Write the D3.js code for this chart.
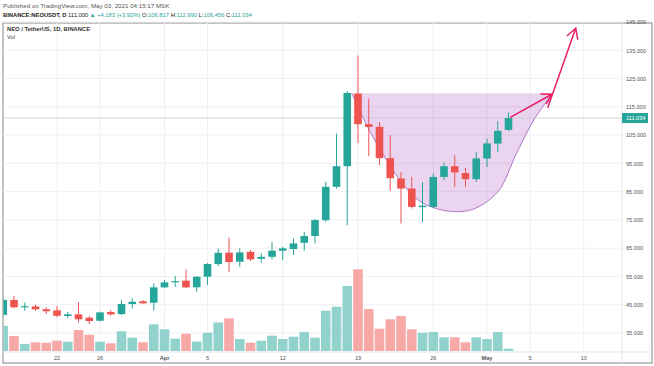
<!DOCTYPE html>
<html>
<head>
<meta charset="utf-8">
<script src="https://cdn.jsdelivr.net/npm/d3@7"></script>
<style>
  body { margin: 0; background: #fff; }
  svg { display: block; font-family: "Liberation Sans", Arial, sans-serif; }
</style>
</head>
<body>
<div class="chart"></div>
<script>
// daily candles, NEO/USDT, 17 Mar - 3 May 2021
var dates = d3.utcDay.range(new Date(Date.UTC(2021, 2, 17)), new Date(Date.UTC(2021, 4, 4)));

var opens = [41.4, 46.7, 44.1, 44.4, 43.4, 43.0, 41.0, 41.6, 40.4, 39.35, 42.4, 41.7, 45.25, 46.2, 45.7,
  51.15, 52.9, 53.5, 51.15, 54.9, 59.4, 63.4, 60.2, 63.7, 61.25, 61.95, 64.1, 64.7, 66.9, 69.3, 74.9, 86.7, 94.0,
  119.7, 108.85, 107.9, 96.85, 89.65, 86.1, 79.5, 79.6, 90.2, 94.0, 91.6, 89.4, 96.7, 102.0, 106.817];
var highs = [47.4, 48.1, 45.8, 45.1, 44.1, 44.5, 42.5, 45.85, 41.0, 42.5, 43.1, 46.65, 47.25, 46.65, 52.55,
  53.7, 55.1, 57.5, 55.1, 59.7, 64.9, 68.75, 64.9, 64.3, 63.15, 67.25, 65.5, 68.45, 70.8, 75.3, 88.45, 105.55, 120.6,
  133.2, 117.9, 109.55, 104.95, 91.9, 90.2, 88.35, 91.4, 95.3, 97.9, 93.4, 99.05, 103.8, 109.9, 112.99];
var lows = [40.8, 43.8, 42.9, 42.9, 41.7, 40.65, 40.4, 38.65, 38.05, 39.05, 41.1, 41.35, 43.7, 45.25, 42.9,
  50.8, 51.35, 50.9, 49.6, 51.95, 58.8, 56.65, 58.4, 60.45, 59.85, 61.05, 60.8, 62.55, 64.1, 66.7, 74.3, 86.1, 73.15,
  102.15, 97.55, 94.35, 85.35, 73.75, 79.05, 74.2, 79.35, 89.05, 86.7, 86.7, 88.45, 93.75, 99.05, 106.456];
var closes = [46.7, 44.1, 44.5, 43.4, 42.7, 41.1, 41.6, 39.85, 39.25, 42.3, 41.6, 45.25, 46.05, 45.5, 51.15,
  52.9, 53.35, 51.15, 54.9, 59.4, 63.35, 60.1, 63.5, 61.05, 61.95, 64.1, 64.95, 66.7, 69.3, 74.95, 86.7, 94.0, 119.9,
  108.85, 107.9, 96.85, 89.75, 86.1, 79.6, 80.05, 90.2, 94.0, 91.8, 89.4, 96.75, 102.05, 106.5, 111.034];
var volumes = [253, 150, 70, 87, 83, 103, 93, 210, 163, 93, 77, 197, 133, 87, 267,
  217, 123, 173, 95, 183, 285, 327, 120, 83, 103, 153, 120, 143, 190, 133, 403, 443, 650,
  817, 420, 223, 317, 350, 217, 183, 190, 137, 137, 87, 137, 120, 190, 23];

var priceTicks = [35, 45, 55, 65, 75, 85, 95, 105, 115, 125, 135, 145];
var timeTicks = ["2021-03-22", "2021-03-26", "2021-04-01", "2021-04-05", "2021-04-12",
  "2021-04-19", "2021-04-26", "2021-05-01", "2021-05-05", "2021-05-10"];
var timeLabels = ["22", "26", "Apr", "5", "12", "19", "26", "May", "5", "10"];
var lastPrice = 111.034;

// drawing: cup outline (days after 19 Apr, price) and two arrows
var cupDays = [-0.56, 1.02, 2.67, 4.07, 5.77, 8.09, 10.6, 13.02, 14.79, 16.47, 18.14];
var cupPrices = [119.8, 107.07, 96.13, 88.36, 81.64, 78.29, 78.64, 84.93, 98.6, 110.97, 119.8];
var arrowDays = [[14.23, 18.05], [17.67, 20.28]];
var arrowPrices = [[111.33, 119.45], [114.86, 142.77]];

var svgWidth = 654, svgHeight = 366;
var frame = { left: 3, top: 23, right: 652, bottom: 363 };
var plotRight = 622, plotBottom = 352;

var svg = d3.select(".chart").append("svg")
  .attr("width", svgWidth)
  .attr("height", svgHeight);

var day0 = new Date(Date.UTC(2021, 3, 19));
var x = d3.scaleUtc()
  .domain([day0, new Date(Date.UTC(2021, 4, 10))])
  .range([358, 583.75]);
var y = d3.scaleLinear().domain([35, 145]).range([333, 22]);
var yVol = d3.scaleLinear().domain([0, 1000]).range([351, 251]);

function dayX(d) { return x(d3.utcHour.offset(day0, d * 24)); }

var upColor = "#26a69a", downColor = "#ef5350";
var upVol = "#92d2cc", downVol = "#f7a9a7";

// header
var head = svg.append("g");
head.append("text").attr("x", 3).attr("y", 8).attr("fill", "#555").attr("font-size", "6.2px")
  .text("Published on TradingView.com, May 03, 2021 04:15:17 MSK");
var line2 = head.append("text").attr("x", 3).attr("y", 17).attr("font-size", "5.8px").attr("fill", "#222");
line2.append("tspan").attr("font-weight", "bold").text("BINANCE:NEOUSDT, D ");
line2.append("tspan").text("111.000 ");
line2.append("tspan").attr("fill", upColor).text("\u25B2 +4.183 (+3.92%) ");
[["O:", "106.817"], ["H:", "112.990"], ["L:", "106.456"], ["C:", "111.034"]].forEach(function(p) {
  line2.append("tspan").text(p[0]);
  line2.append("tspan").attr("fill", upColor).text(p[1] + " ");
});

// frame
svg.append("rect")
  .attr("x", frame.left).attr("y", frame.top)
  .attr("width", frame.right - frame.left).attr("height", frame.bottom - frame.top)
  .attr("fill", "none").attr("stroke", "#9a9a9a").attr("stroke-width", 1.2);

var grid = svg.append("g").attr("stroke", "#eef0f4").attr("stroke-width", 1);
grid.selectAll(".hg").data(priceTicks).enter().append("line")
  .attr("x1", frame.left).attr("x2", plotRight)
  .attr("y1", d => y(d)).attr("y2", d => y(d));
grid.selectAll(".vg").data(timeTicks).enter().append("line")
  .attr("x1", d => x(new Date(d))).attr("x2", d => x(new Date(d)))
  .attr("y1", frame.top).attr("y2", plotBottom);

svg.append("defs").append("clipPath").attr("id", "plot")
  .append("rect").attr("x", frame.left + 0.6).attr("y", frame.top)
  .attr("width", plotRight - frame.left).attr("height", plotBottom - frame.top);

var plot = svg.append("g").attr("clip-path", "url(#plot)");

var bars = dates.map(function(d, i) {
  return { date: d, o: opens[i], h: highs[i], l: lows[i], c: closes[i], v: volumes[i] };
});

// volume
plot.selectAll(".vol").data(bars).enter().append("rect")
  .attr("x", d => x(d.date) - 4.8)
  .attr("width", 9.6)
  .attr("y", d => yVol(d.v))
  .attr("height", d => yVol(0) - yVol(d.v))
  .attr("fill", d => d.c >= d.o ? upVol : downVol);

// cup shape
var cupPts = cupDays.map((d, i) => [dayX(d), y(cupPrices[i])]);
var cupLine = d3.line().curve(d3.curveCatmullRom.alpha(0.5));
plot.append("path")
  .attr("d", cupLine(cupPts) + "Z")
  .attr("fill", "#9c27b0").attr("fill-opacity", 0.2).attr("stroke", "none");
plot.append("path")
  .attr("d", cupLine(cupPts))
  .attr("fill", "none").attr("stroke", "#a569c2").attr("stroke-width", 0.9);

// last price line
plot.append("line")
  .attr("x1", frame.left).attr("x2", plotRight)
  .attr("y1", y(lastPrice)).attr("y2", y(lastPrice))
  .attr("stroke", "#c8cbd2").attr("stroke-width", 0.8);

// candles
var candle = plot.selectAll(".candle").data(bars).enter().append("g");
candle.append("line")
  .attr("x1", d => x(d.date)).attr("x2", d => x(d.date))
  .attr("y1", d => y(d.h)).attr("y2", d => y(d.l))
  .attr("stroke", d => d.c >= d.o ? upColor : downColor).attr("stroke-width", 1);
candle.append("rect")
  .attr("x", d => x(d.date) - 3.8)
  .attr("width", 7.6)
  .attr("y", d => y(Math.max(d.o, d.c)))
  .attr("height", d => Math.max(1, Math.abs(y(d.o) - y(d.c))))
  .attr("fill", d => d.c >= d.o ? upColor : downColor);

// arrows
arrowDays.forEach(function(ad, i) {
  var x1 = dayX(ad[0]), y1 = y(arrowPrices[i][0]);
  var x2 = dayX(ad[1]), y2 = y(arrowPrices[i][1]);
  var ang = Math.atan2(y2 - y1, x2 - x1);
  var len = 11, spread = Math.PI / 6;
  var g = plot.append("g").attr("stroke", "#e91e63").attr("stroke-width", 1.5)
    .attr("stroke-linecap", "round").attr("fill", "none");
  g.append("line").attr("x1", x1).attr("y1", y1).attr("x2", x2).attr("y2", y2);
  g.append("path").attr("d", "M" + (x2 - len * Math.cos(ang - spread)) + "," + (y2 - len * Math.sin(ang - spread)) +
    "L" + x2 + "," + y2 +
    "L" + (x2 - len * Math.cos(ang + spread)) + "," + (y2 - len * Math.sin(ang + spread)));
});

// legend inside pane
svg.append("text").attr("x", 7).attr("y", 31).attr("font-size", "5.8px")
  .attr("font-weight", "bold").attr("fill", "#333").text("NEO / TetherUS, 1D, BINANCE");
svg.append("text").attr("x", 7).attr("y", 39).attr("font-size", "5.8px")
  .attr("fill", "#444").text("Vol");

// price axis
svg.append("line").attr("x1", plotRight).attr("x2", plotRight)
  .attr("y1", frame.top).attr("y2", frame.bottom).attr("stroke", "#e3e5ea");
svg.append("line").attr("x1", frame.left).attr("x2", frame.right)
  .attr("y1", plotBottom).attr("y2", plotBottom).attr("stroke", "#e3e5ea");

var yAxis = d3.axisRight(y).tickValues(priceTicks).tickSize(0).tickPadding(4)
  .tickFormat(d3.format(".3f"));
svg.append("g").attr("transform", `translate(${plotRight},0)`).call(yAxis)
  .call(g => g.select(".domain").remove())
  .selectAll("text").attr("font-size", "5.6px").attr("fill", "#555")
  .attr("font-family", "Liberation Sans, Arial, sans-serif");

var tag = svg.append("g");
tag.append("rect").attr("x", plotRight).attr("y", y(lastPrice) - 5)
  .attr("width", 26).attr("height", 10).attr("fill", upColor);
tag.append("text").attr("x", plotRight + 4).attr("y", y(lastPrice) + 2)
  .attr("font-size", "5.6px").attr("fill", "#fff").text(d3.format(".3f")(lastPrice));

// time axis
svg.append("g").selectAll("text").data(timeTicks).enter().append("text")
  .attr("x", d => x(new Date(d)))
  .attr("y", 360)
  .attr("text-anchor", "middle")
  .attr("font-size", "5.6px")
  .attr("font-weight", (d, i) => /[A-Za-z]/.test(timeLabels[i]) ? "bold" : "normal")
  .attr("fill", "#555")
  .text((d, i) => timeLabels[i]);
</script>
</body>
</html>
